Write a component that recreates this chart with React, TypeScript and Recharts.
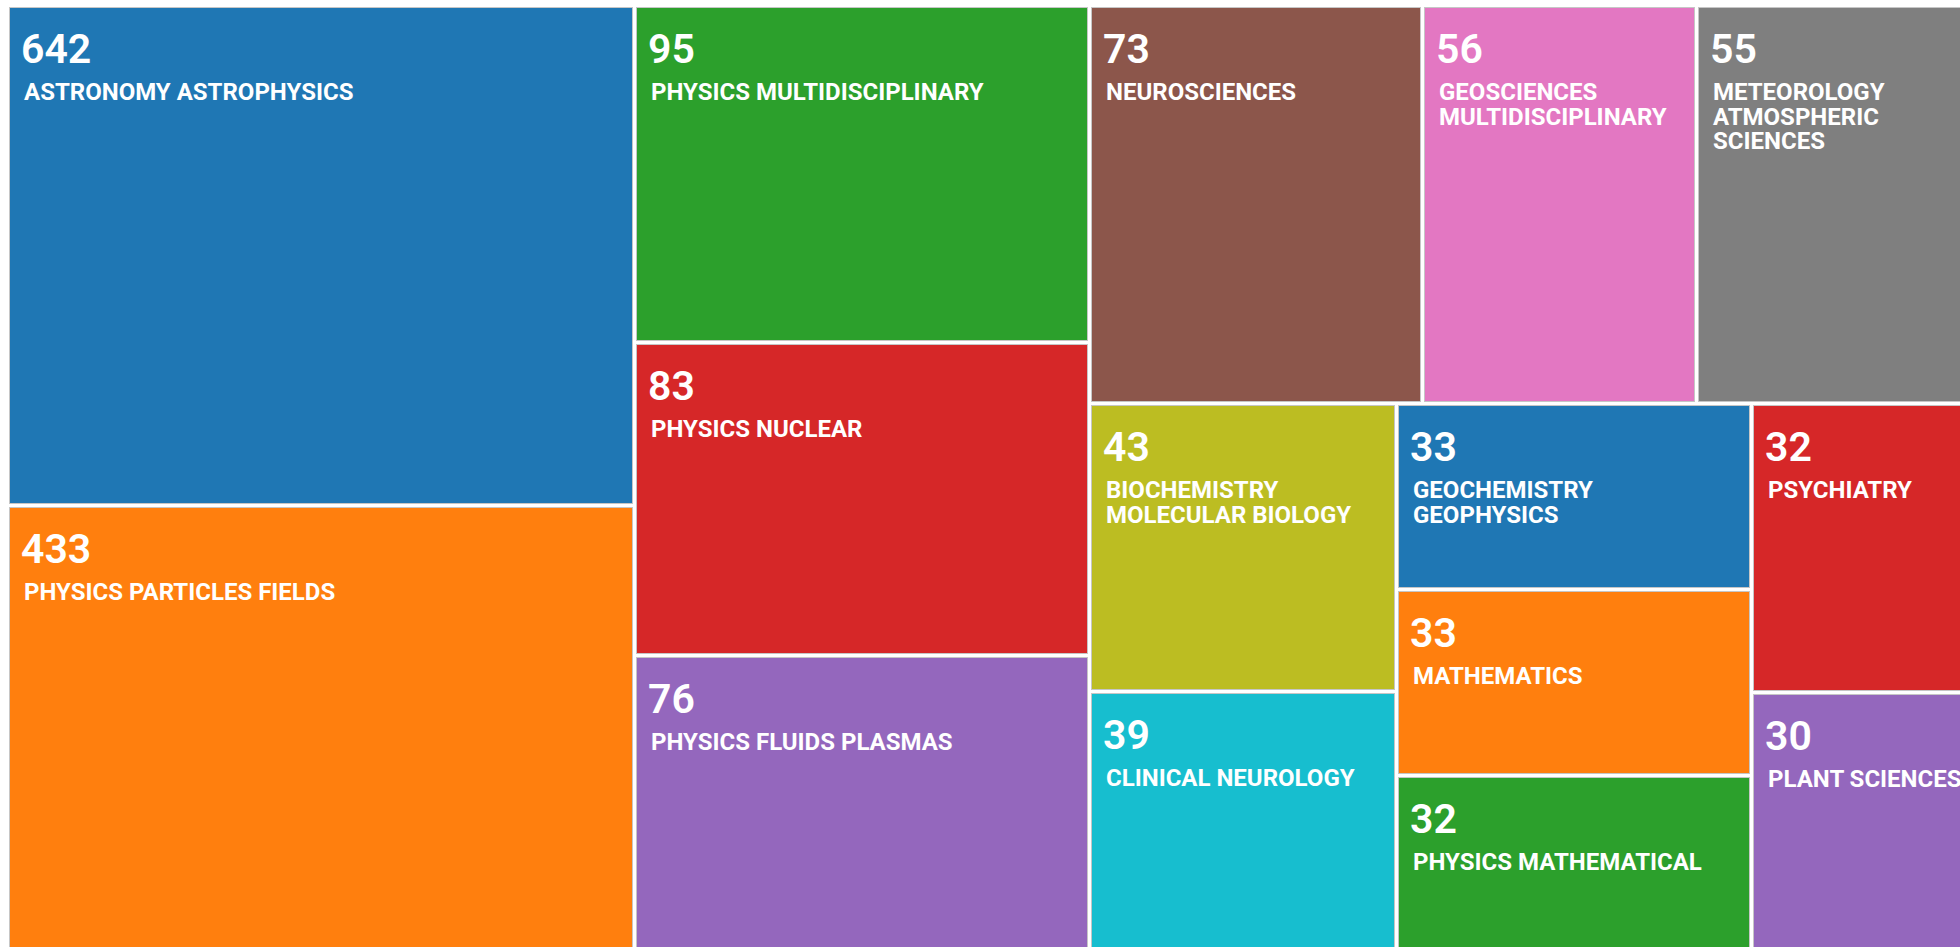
import { Treemap } from "recharts";

const categories = [
  "ASTRONOMY ASTROPHYSICS",
  "PHYSICS PARTICLES FIELDS",
  "PHYSICS MULTIDISCIPLINARY",
  "PHYSICS NUCLEAR",
  "PHYSICS FLUIDS PLASMAS",
  "NEUROSCIENCES",
  "GEOSCIENCES MULTIDISCIPLINARY",
  "METEOROLOGY ATMOSPHERIC SCIENCES",
  "BIOCHEMISTRY MOLECULAR BIOLOGY",
  "CLINICAL NEUROLOGY",
  "GEOCHEMISTRY GEOPHYSICS",
  "MATHEMATICS",
  "PHYSICS MATHEMATICAL",
  "PSYCHIATRY",
  "PLANT SCIENCES"
];

const recordCounts = [642, 433, 95, 83, 76, 73, 56, 55, 43, 39, 33, 33, 32, 32, 30];

// share of the treemap area each tile covers in the picture (%).
// the tiles are not drawn in proportion to the counts, so the layout is sized by these
const areaShares = [16.7, 15.0, 8.15, 7.59, 7.26, 7.06, 5.81, 6.09, 4.7, 4.31, 3.51, 3.52, 3.4, 3.6, 3.3];

const palette = [
  "#1f77b4",
  "#ff7f0e",
  "#2ca02c",
  "#d62728",
  "#9467bd",
  "#8c564b",
  "#e377c2",
  "#7f7f7f",
  "#bcbd22",
  "#17becf"
];

const data = categories.map((name, i) => ({
  name,
  count: recordCounts[i],
  share: areaShares[i]
}));

const FONT = "Roboto, 'Noto Sans', sans-serif";
const LABEL_FONT = `700 24px ${FONT}`;

let measureCtx: CanvasRenderingContext2D | null = null;

function textWidth(s: string, font: string) {
  if (!measureCtx) measureCtx = document.createElement("canvas").getContext("2d");
  if (!measureCtx) return s.length * 14;
  measureCtx.font = font;
  return measureCtx.measureText(s).width;
}

function wrapWords(text: string, maxWidth: number, font: string) {
  const lines: string[] = [];
  let cur = "";
  for (const word of text.split(" ")) {
    const next = cur ? `${cur} ${word}` : word;
    if (cur && textWidth(next, font) > maxWidth) {
      lines.push(cur);
      cur = word;
    } else {
      cur = next;
    }
  }
  if (cur) lines.push(cur);
  return lines;
}

function Tile(props: any) {
  const { x, y, width, height, depth, index, name, count } = props;
  if (depth !== 1) return null;

  const lines = wrapWords(name, width - 36, LABEL_FONT);

  return (
    <g>
      <rect
        x={x + 2.5}
        y={y + 2.5}
        width={width - 4}
        height={height - 4}
        fill="none"
        stroke="#c6c6c6"
        strokeWidth={1}
      />
      <rect x={x + 3} y={y + 3} width={width - 5} height={height - 5} fill={palette[index % palette.length]} />
      <text x={x + 14} y={y + 58} fill="#fff" fontFamily={FONT} fontSize={41} fontWeight={600}>
        {count}
      </text>
      <text x={x + 17} y={y + 95} fill="#fff" fontFamily={FONT} fontSize={24} fontWeight={700}>
        {lines.map((line, i) => (
          <tspan key={i} x={x + 17} dy={i === 0 ? 0 : 24.5}>
            {line}
          </tspan>
        ))}
      </text>
    </g>
  );
}

export default function App() {
  return (
    <div
      style={{
        position: "fixed",
        left: 0,
        top: 0,
        width: 1960,
        height: 947,
        overflow: "hidden",
        background: "#fff"
      }}
    >
      <div style={{ position: "absolute", left: 7, top: 5 }}>
        <Treemap
          width={1978}
          height={950}
          data={data}
          dataKey="share"
          nameKey="name"
          isAnimationActive={false}
          isUpdateAnimationActive={false}
          content={(p: any) => <Tile {...p} />}
        />
      </div>
    </div>
  );
}
